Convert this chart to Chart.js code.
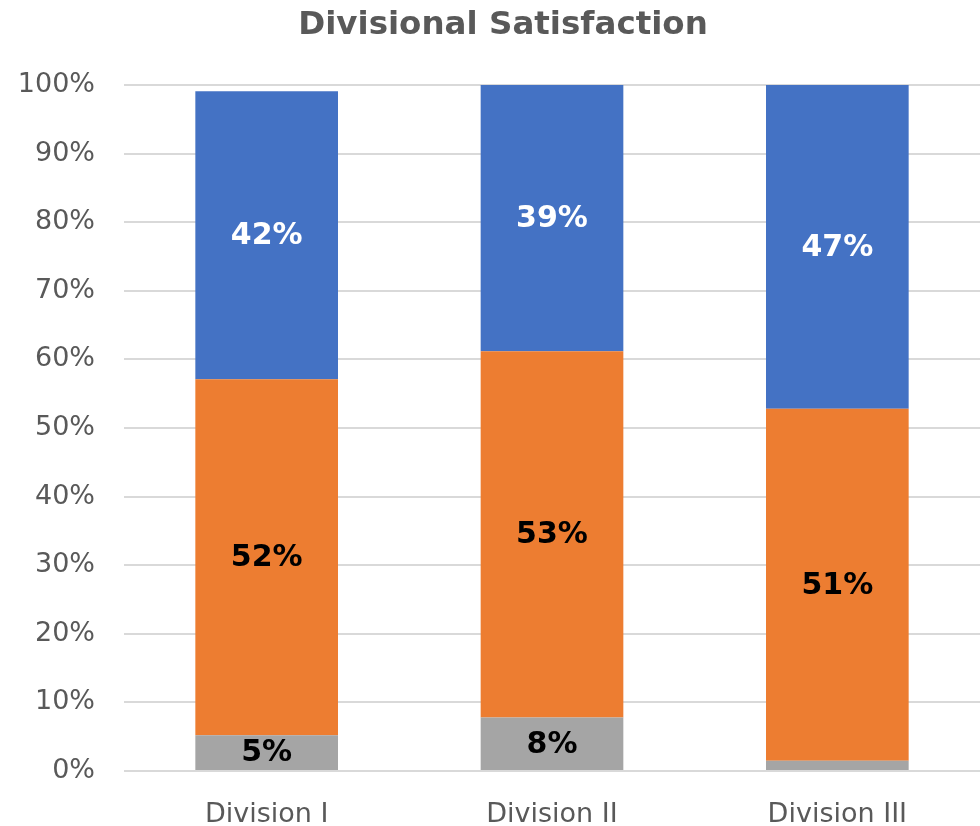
<!DOCTYPE html>
<html>
<head>
<meta charset="utf-8">
<script src="https://cdn.jsdelivr.net/npm/chart.js@4"></script>
<style>
html,body{margin:0;padding:0;background:#fff;}
#wrap{width:980px;height:826px;position:relative;}
</style>
</head>
<body>
<div id="wrap"><canvas id="c"></canvas></div>
<script>
const categories = ['Division I', 'Division II', 'Division III'];
const seriesNames = ['Low', 'Medium', 'High'];
const lowValues = [5.2, 7.8, 1.5];
const mediumValues = [51.9, 53.4, 51.3];
const highValues = [42.0, 38.8, 47.2];
const yTicks = [0, 10, 20, 30, 40, 50, 60, 70, 80, 90, 100];
const titleText = 'Divisional Satisfaction';

const labelPlugin = {
  id: 'barLabels',
  afterDatasetsDraw(chart) {
    const ctx = chart.ctx;
    ctx.save();
    ctx.font = 'bold 30px "DejaVu Sans"';
    ctx.textAlign = 'center';
    ctx.textBaseline = 'middle';
    chart.data.datasets.forEach((ds, di) => {
      const meta = chart.getDatasetMeta(di);
      meta.data.forEach((el, i) => {
        const v = ds.data[i];
        if (v < 3) return;
        ctx.fillStyle = ds.labelColor;
        ctx.fillText(Math.round(v) + '%', el.x, (el.y + el.base) / 2 + 1);
      });
    });
    ctx.restore();
  }
};

const titlePlugin = {
  id: 'customTitle',
  afterDraw(chart) {
    const ctx = chart.ctx;
    ctx.save();
    ctx.font = 'bold 32.5px "DejaVu Sans"';
    ctx.fillStyle = '#595959';
    ctx.textAlign = 'center';
    ctx.textBaseline = 'middle';
    ctx.fillText(titleText, 503, 26);
    ctx.restore();
  }
};

new Chart(document.getElementById('c'), {
  type: 'bar',
  data: {
    labels: categories,
    datasets: [
      {label: seriesNames[0], data: lowValues, backgroundColor: '#A5A5A5', labelColor: '#000000'},
      {label: seriesNames[1], data: mediumValues, backgroundColor: '#ED7D31', labelColor: '#000000'},
      {label: seriesNames[2], data: highValues, backgroundColor: '#4472C4', labelColor: '#FFFFFF'}
    ]
  },
  options: {
    responsive: true,
    maintainAspectRatio: false,
    animation: false,
    layout: {padding: {left: 0, right: 0, top: 85, bottom: 0}},
    datasets: {bar: {categoryPercentage: 1.0, barPercentage: 0.5}},
    plugins: {
      legend: {display: false},
      tooltip: {enabled: false},
      title: {display: false}
    },
    scales: {
      x: {
        stacked: true,
        grid: {display: false, drawTicks: false},
        border: {display: false},
        ticks: {color: '#595959', font: {family: 'DejaVu Sans', size: 27, lineHeight: 1.0}, padding: 30},
        afterFit(scale) { scale.height = 55; }
      },
      y: {
        stacked: true,
        min: 0,
        max: 100,
        afterBuildTicks(scale) { scale.ticks = yTicks.map(v => ({value: v})); },
        grid: {color: '#d9d9d9', lineWidth: 2, drawTicks: false},
        border: {display: false},
        ticks: {color: '#595959', font: {family: 'DejaVu Sans', size: 27}, padding: 29, callback: v => v + '%'},
        afterFit(scale) { scale.width = 124; }
      }
    }
  },
  plugins: [labelPlugin, titlePlugin]
});
</script>
</body>
</html>
